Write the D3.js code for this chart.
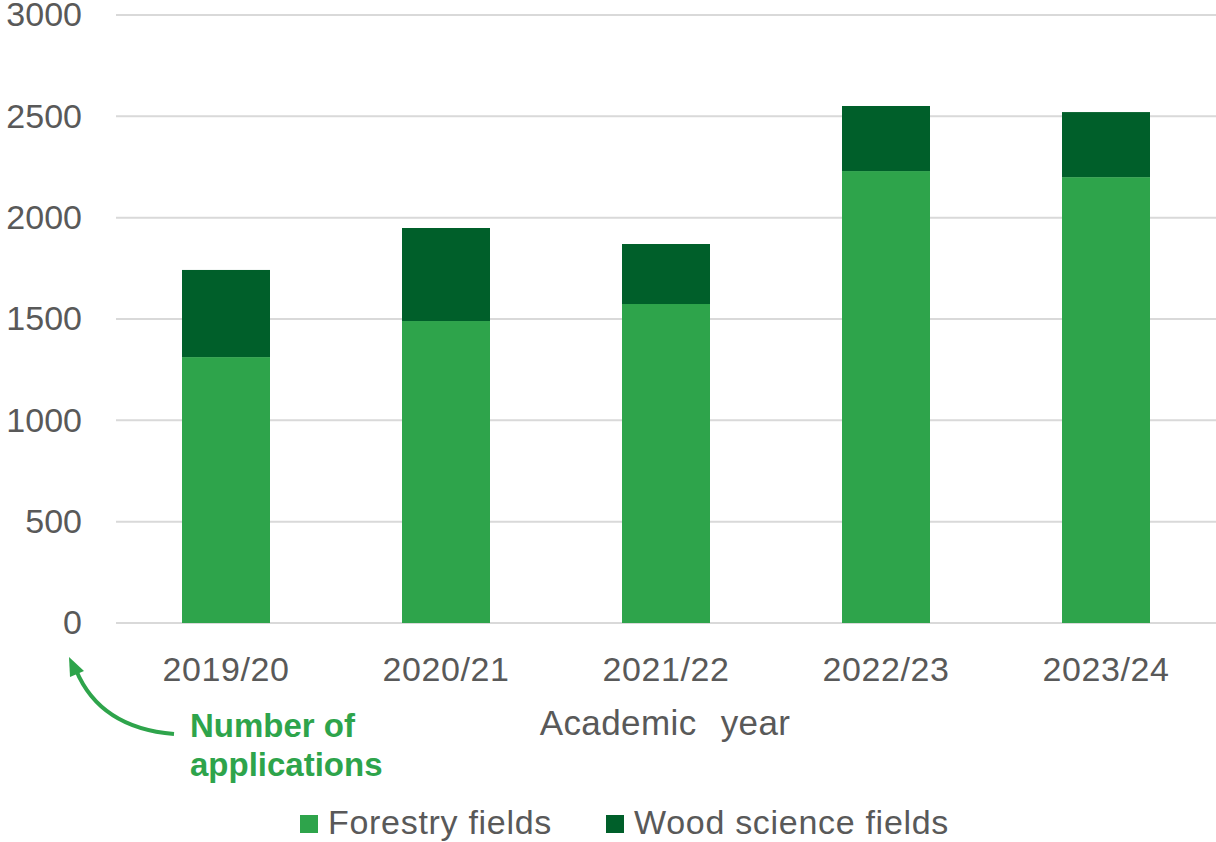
<!DOCTYPE html>
<html>
<head>
<meta charset="utf-8">
<script src="https://cdn.jsdelivr.net/npm/d3@7"></script>
<style>
  body { margin: 0; background: #fff; }
  text { font-family: "Liberation Sans", Arial, sans-serif; fill: #595959; }
</style>
</head>
<body>
<div id="chart"></div>
<script>
// Chart data
let years = ["2019/20", "2020/21", "2021/22", "2022/23", "2023/24"];
let forestry = [1312, 1490, 1574, 2230, 2200];
let wood = [430, 459, 296, 321, 321];
let yTicks = [0, 500, 1000, 1500, 2000, 2500, 3000];
let seriesNames = ["Forestry fields", "Wood science fields"];
let seriesColors = ["#2ea44b", "#005f2a"];

let svgWidth = 1216;
let svgHeight = 842;

let svg = d3.select("#chart")
  .append("svg")
  .attr("width", svgWidth)
  .attr("height", svgHeight);

// Scales
let x = d3.scaleBand()
  .domain(years)
  .range([116, 1216])
  .paddingInner(0.6)
  .paddingOuter(0.3);

let y = d3.scaleLinear()
  .domain([0, 3000])
  .range([623, 15]);

// Gridlines
svg.append("g")
  .selectAll("line")
  .data(yTicks)
  .enter()
  .append("line")
  .attr("x1", 116)
  .attr("x2", 1216)
  .attr("y1", d => y(d))
  .attr("y2", d => y(d))
  .attr("stroke", "#d9d9d9")
  .attr("stroke-width", 2);

// Y axis labels
let yAxis = svg.append("g")
  .attr("transform", "translate(82,0)")
  .call(d3.axisLeft(y).tickValues(yTicks).tickFormat(d3.format("d")).tickSize(0).tickPadding(0));
yAxis.select(".domain").remove();
yAxis.selectAll("text")
  .style("font-size", "34px")
  .style("fill", "#595959")
  .style("font-family", "Liberation Sans, Arial, sans-serif");

// Stack the two series
let rows = years.map((yr, i) => ({ year: yr, forestry: forestry[i], wood: wood[i] }));
let stacked = d3.stack().keys(["forestry", "wood"])(rows);

svg.append("g")
  .selectAll("g")
  .data(stacked)
  .enter()
  .append("g")
  .attr("fill", (d, i) => seriesColors[i])
  .selectAll("rect")
  .data(d => d)
  .enter()
  .append("rect")
  .attr("x", d => x(d.data.year))
  .attr("width", x.bandwidth())
  .attr("y", d => y(d[1]))
  .attr("height", d => y(d[0]) - y(d[1]));

// X axis labels
let xAxis = svg.append("g")
  .attr("transform", "translate(0,623)")
  .call(d3.axisBottom(x).tickSize(0).tickPadding(34));
xAxis.select(".domain").remove();
xAxis.selectAll("text")
  .style("font-size", "34px")
  .style("fill", "#595959")
  .style("letter-spacing", "0.6px")
  .style("font-family", "Liberation Sans, Arial, sans-serif");

// Axis title
svg.append("text")
  .attr("x", 665)
  .attr("y", 735)
  .attr("text-anchor", "middle")
  .style("font-size", "35px")
  .style("word-spacing", "14px")
  .style("letter-spacing", "0.4px")
  .text("Academic year");

// Annotation: Number of applications
let note = svg.append("text")
  .attr("x", 190)
  .style("font-size", "33px")
  .style("font-weight", "bold")
  .style("fill", "#2ea44b");
note.append("tspan").attr("x", 190).attr("y", 737).text("Number of");
note.append("tspan").attr("x", 190).attr("y", 776).text("applications");

svg.append("path")
  .attr("d", "M174,734 Q100,728 76,670")
  .attr("fill", "none")
  .attr("stroke", "#2ea44b")
  .attr("stroke-width", 4);
svg.append("path")
  .attr("d", "M69,657 L70,677 L84,671 Z")
  .attr("fill", "#2ea44b");

// Legend
let legendX = [300, 606];
let legend = svg.append("g")
  .selectAll("g")
  .data(seriesNames)
  .enter()
  .append("g")
  .attr("transform", (d, i) => `translate(${legendX[i]},0)`);
legend.append("rect")
  .attr("x", 0)
  .attr("y", 815)
  .attr("width", 18)
  .attr("height", 18)
  .attr("fill", (d, i) => seriesColors[i]);
legend.append("text")
  .attr("x", 28)
  .attr("y", 834)
  .style("font-size", "34px")
  .style("letter-spacing", "0.7px")
  .text(d => d);
</script>
</body>
</html>
